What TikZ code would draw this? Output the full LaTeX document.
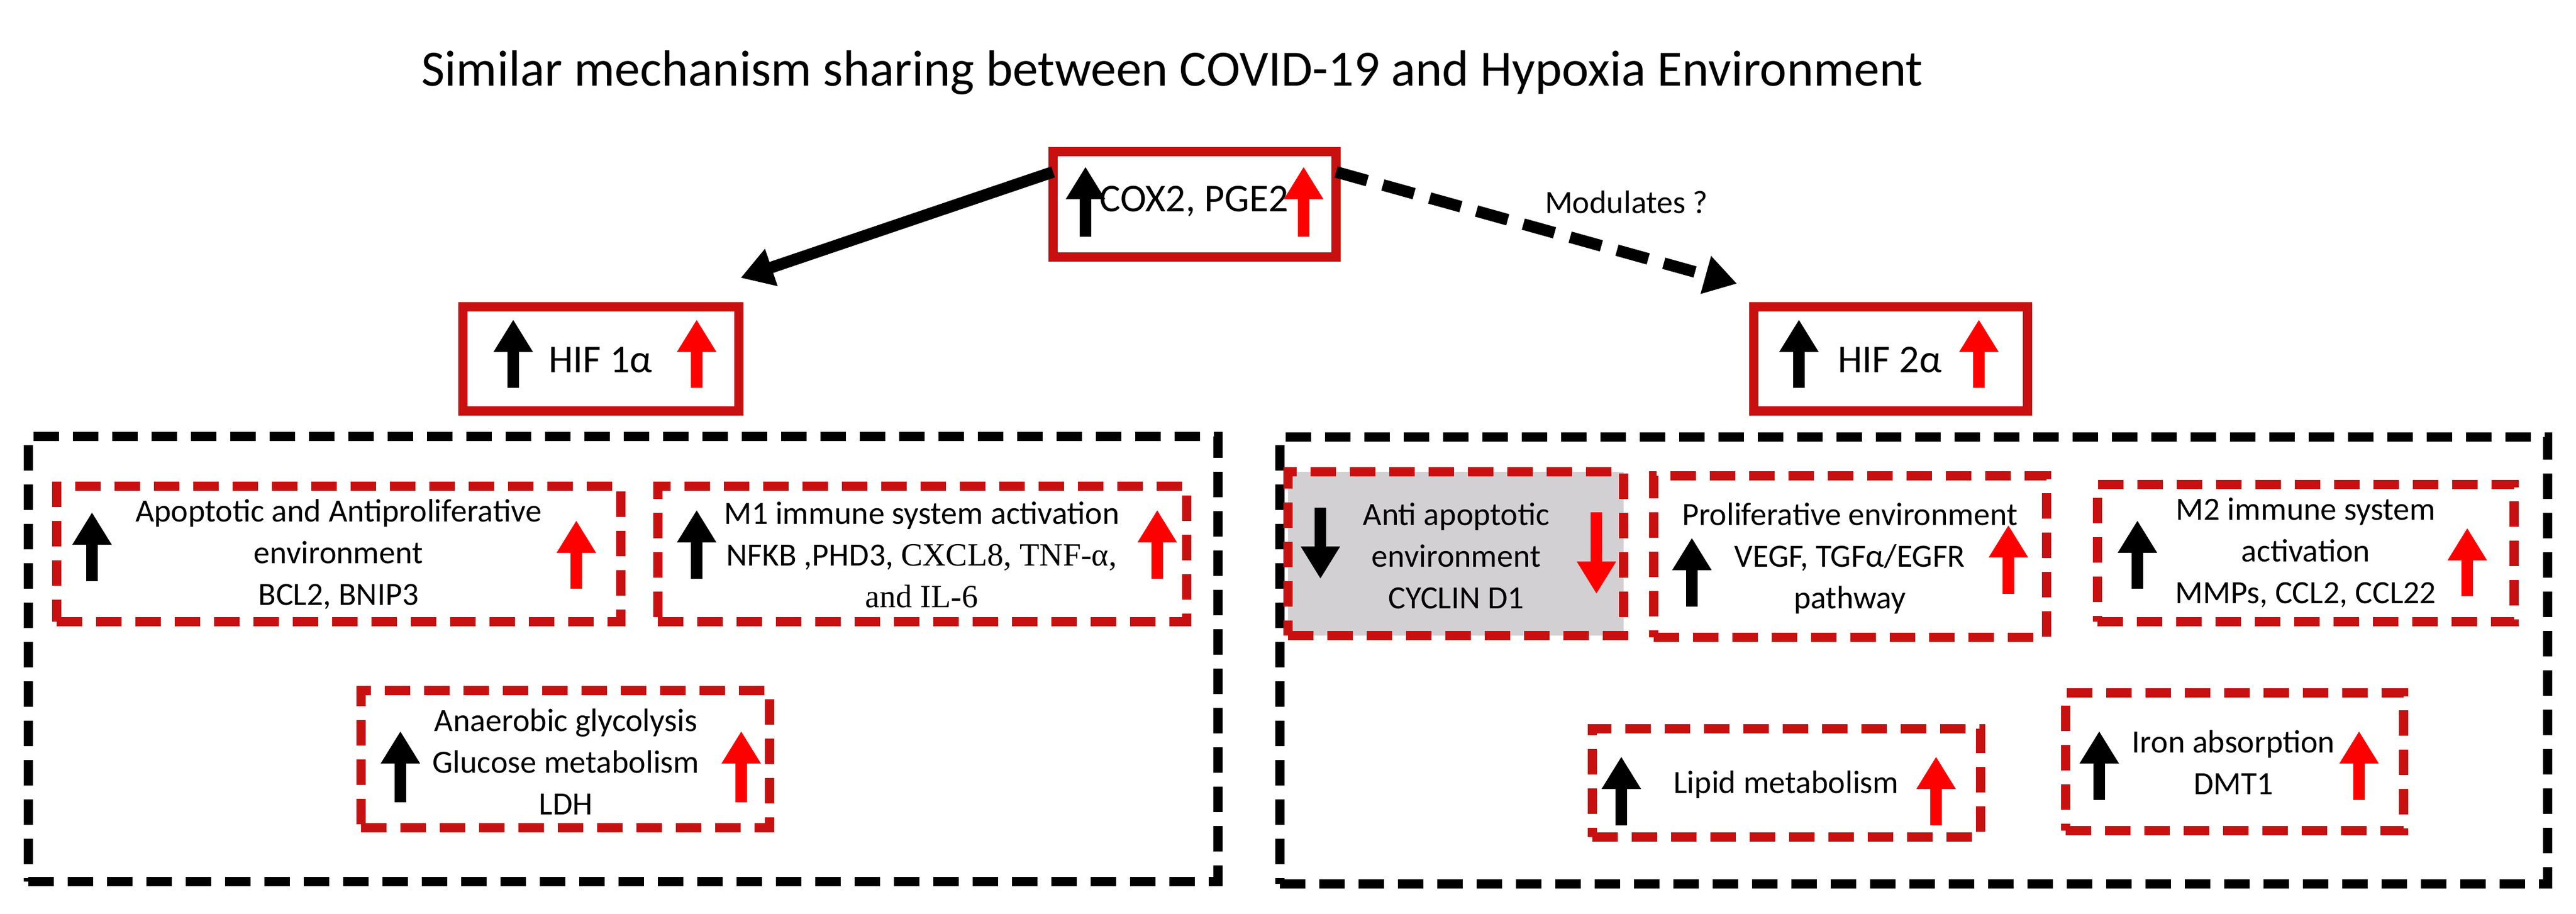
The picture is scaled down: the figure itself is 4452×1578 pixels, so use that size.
\documentclass[tikz,border=0pt]{standalone}
\usepackage{fontspec}
\setmainfont{Carlito}
\newfontfamily\serifx{Liberation Serif}
\usetikzlibrary{arrows.meta}
\definecolor{dred}{RGB}{200,16,16}
\definecolor{bred}{RGB}{255,0,0}
\definecolor{gfill}{RGB}{210,208,210}
\newcommand\mybx[6]{\node[#2, minimum width={(#5-#3)*0.25pt}, minimum height={(#6-#4)*0.25pt}] (#1) at ({(#3+#5)/2},{(#4+#6)/2}) {};}
\begin{document}
\begin{tikzpicture}[x=0.25pt,y=-0.25pt,
  every node/.style={font=\fontsize{14}{18}\selectfont, inner sep=0pt, outer sep=0pt, align=center},
  big/.style={font=\fontsize{17}{20}\selectfont},
  sbox/.style={draw=dred, line width=4pt, rectangle},
  dbox/.style={draw=dred, line width=4pt, rectangle, dash pattern=on 11pt off 6pt},
  kbox/.style={draw=black, line width=4pt, rectangle, dash pattern=on 11pt off 6pt},
  ua/.style={line width=5pt, -{Triangle[width=16pt,length=14pt]}, black},
  ur/.style={ua, bred},
  conn/.style={line width=5pt, -{Triangle[width=16pt,length=14pt]}, black}]
\useasboundingbox (0,0) rectangle (4452,1578);
\node (title) at (2026,125) {\fontsize{22}{26}\selectfont Similar mechanism sharing between COVID-19 and Hypoxia Environment};
% top boxes
\mybx{cox}{sbox}{1820}{262}{2309}{444}
\node[big] (coxt) at (2064,348) {COX2, PGE2};
\draw[ua] (1876,409) -- (1876,288);
\draw[ur] (2253,409) -- (2253,288);
\mybx{hifa}{sbox}{800}{530}{1277}{710}
\node[big] (hifat) at (1038,622) {HIF 1α};
\draw[ua] (887,670) -- (887,552);
\draw[ur] (1204,670) -- (1204,552);
\mybx{hifb}{sbox}{3031}{530}{3504}{710}
\node[big] (hifbt) at (3266,622) {HIF 2α};
\draw[ua] (3109,670) -- (3109,552);
\draw[ur] (3420,670) -- (3420,552);
% connectors
\coordinate (t1) at (1280,480);
\coordinate (t2) at (3002,490);
\draw[conn] ([yshift=14pt]cox.west) -- (t1);
\draw[conn, dash pattern=on 14pt off 7pt] ([yshift=14pt]cox.east) -- (t2);
\node (mod) at (2811,349) {Modulates ?};
% big boxes
\mybx{lbig}{kbox}{49}{754}{2105}{1523}
\mybx{rbig}{kbox}{2212}{755}{4403}{1527}
% left inner
\mybx{apo}{dbox}{98}{840}{1073}{1074}
\node (apot) at (585,958) {Apoptotic and Antiproliferative\\environment\\BCL2, BNIP3};
\draw[ua] (159,1004) -- (159,885);
\draw[ur] (996,1017) -- (996,899);
\mybx{mone}{dbox}{1137}{840}{2051}{1074}
\node (monet) at (1593,958) {M1 immune system activation\\NFKB ,PHD3, {\serifx CXCL8, TNF-α,}\\{\serifx and IL-6}};
\draw[ua] (1204,1000) -- (1204,881);
\draw[ur] (2000,1000) -- (2000,881);
\mybx{ana}{dbox}{624}{1193}{1330}{1430}
\node (anat) at (978,1316) {Anaerobic glycolysis\\Glucose metabolism\\LDH};
\draw[ua] (692,1386) -- (692,1263);
\draw[ur] (1281,1386) -- (1281,1263);
% right inner
\mybx{anti}{dbox, fill=gfill}{2226}{815}{2806}{1098}
\node (antit) at (2517,960) {Anti apoptotic\\environment\\CYCLIN D1};
\draw[ua] (2282,877) -- (2282,1000);
\draw[ur] (2759,885) -- (2759,1026);
\mybx{pro}{dbox}{2858}{822}{3537}{1101}
\node (prot) at (3197,965) {Proliferative environment\\VEGF, TGFα/EGFR\\pathway};
\draw[ua] (2924,1048) -- (2924,929);
\draw[ur] (3471,1026) -- (3471,907);
\mybx{mtwo}{dbox}{3625}{837}{4345}{1074}
\node (mtwot) at (3985,955) {M2 immune system\\activation\\MMPs, CCL2, CCL22};
\draw[ua] (3694,1017) -- (3694,899);
\draw[ur] (4264,1030) -- (4264,912);
\mybx{lip}{dbox}{2752}{1259}{3423}{1446}
\node (lipt) at (3087,1356) {Lipid metabolism};
\draw[ua] (2802,1426) -- (2802,1307);
\draw[ur] (3346,1426) -- (3346,1307);
\mybx{iron}{dbox}{3570}{1197}{4154}{1435}
\node (iront) at (3860,1317) {Iron absorption\\DMT1};
\draw[ua] (3628,1382) -- (3628,1263);
\draw[ur] (4077,1382) -- (4077,1263);
\end{tikzpicture}
\end{document}
